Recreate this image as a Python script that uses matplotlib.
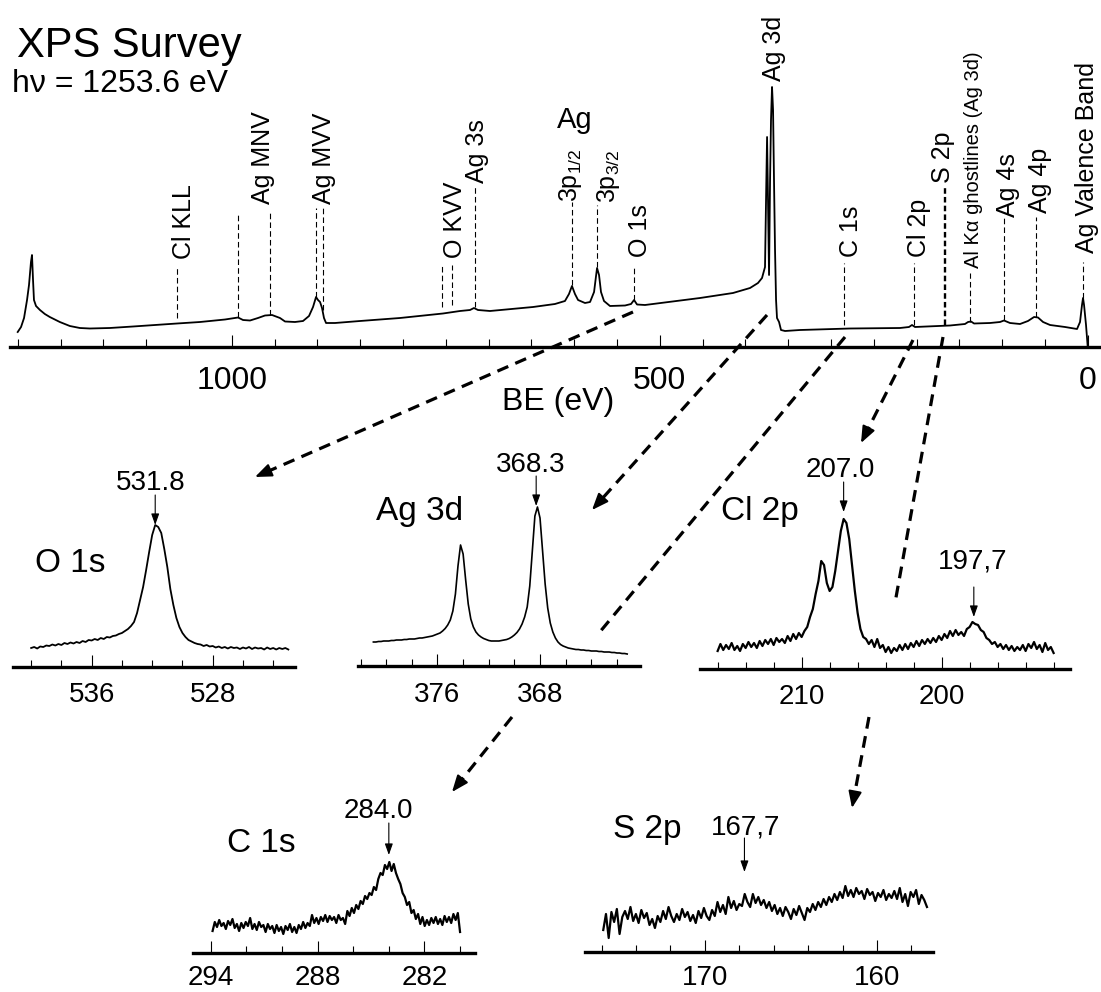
import numpy as np
import matplotlib
matplotlib.use("Agg")
import matplotlib.pyplot as plt
from matplotlib.ticker import FixedLocator, MultipleLocator

plt.rcParams['font.family'] = ['Liberation Sans', 'DejaVu Sans']
plt.rcParams['mathtext.fontset'] = 'custom'
plt.rcParams['mathtext.rm'] = 'Liberation Sans'
plt.rcParams['lines.scale_dashes'] = False

# ---------------- data ----------------
survey_be = [1250, 1246.1, 1242.6, 1239.1, 1236.8, 1234.5, 1233.3, 1232.1, 1231.0, 1228.6,
             1224.0, 1218.3, 1212.5, 1200.8, 1189.1, 1177.4, 1165.7, 1142.4, 1115.3, 1089.6,
             1063.9, 1037.0, 1007.8, 992.6, 986.8, 978.6, 969.3, 961.1, 952.9, 943.6,
             937.7, 926.1, 916.7, 909.7, 905.0, 901.5, 899.2, 896.8, 894.5, 892.2,
             889.8, 879.3, 850.1, 803.4, 753.2, 733.3, 721.6, 717.0, 712.3, 698.3,
             648.0, 622.4, 610.7, 606.0, 602.5, 599.0, 595.4, 587.3, 581.4, 576.7,
             574.4, 573.2, 570.9, 568.6, 565.1, 558.1, 540.5, 533.5, 530.0, 526.5,
             517.2, 452.9, 414.4, 394.5, 385.2, 380.5, 377.0, 375.8, 374.6, 373.5,
             372.3, 371.1, 370.0, 368.8, 367.6, 366.5, 365.3, 364.1, 363.0, 360.6,
             358.3, 353.6, 336.1, 277.7, 219.3, 208.8, 205.3, 201.8, 160.9, 143.4,
             139.8, 136.3, 132.8, 114.1, 102.5, 97.8, 90.8, 79.1, 69.8, 62.7,
             58.1, 52.2, 44.0, 26.5, 12.5, 9.0, 6.7, 5.5, 4.3, 2.0, 0.0]
survey_int = [15, 20, 29, 47, 62, 85, 92, 67, 47, 41,
              37, 33, 30, 25, 21, 19, 18.5, 19, 20.5, 22,
              23.5, 25, 27.5, 29.5, 27, 26.5, 29, 31.5, 32, 29,
              25.5, 25, 26, 31, 40, 50, 47, 45, 39, 29,
              24, 24, 26, 29, 33.5, 36, 37, 39, 37, 36,
              40, 43, 46, 53, 61, 53, 47, 44, 45, 55,
              71, 79, 72, 55, 46, 41, 41.5, 43, 47, 42.5,
              42, 49, 54, 59, 64, 69, 80, 147, 210, 147,
              72, 167, 227, 260, 237, 167, 97, 47, 29, 25,
              17, 16, 17, 18.5, 19, 20, 22, 20, 21.5, 23,
              25, 25.5, 23.5, 24, 25, 26.5, 24, 23, 26, 30,
              29.5, 25, 22, 20, 18, 25, 42, 49, 42, 22, 0]

survey_major = [1000, 500, 0]

peak_names = ['Cl KLL', 'Ag MNV', 'Ag MVV', 'O KVV', 'Ag 3s',
              r'$\mathregular{3p_{1/2}}$', r'$\mathregular{3p_{3/2}}$', 'O 1s', 'Ag 3d',
              'C 1s', 'Cl 2p', 'S 2p', 'Al K\u03b1 ghostlines (Ag 3d)', 'Ag 4s', 'Ag 4p',
              'Ag Valence Band']
peak_name_be = [1055.7, 964.0, 892.2, 739.7, 712.9, 604.8, 559.8, 523.0, 366.5,
                276.5, 197.1, 168.6, 134.0, 93.7, 55.7, 1.4]
peak_name_int = [88, 143, 143, 89, 164, 145, 144, 90, 266, 90, 90, 164, 79, 130, 134, 94]
peak_name_size = [18, 18, 18, 18, 18, 18, 18, 18, 18, 18, 18, 18, 14.5, 18, 18, 18]

marker_be = [1063.9, 992.6, 955.2, 901.5, 893.3, 754.3, 742.6, 715.8, 602.5, 573.2,
             530.0, 284.7, 203.2, 137.5, 97.8, 60.5, 5.5]
marker_top = [80, 135, 135, 139, 139, 82, 82, 162, 145, 142, 82, 84, 84, 74, 129, 130, 85]
marker_bottom = [29, 30, 32, 50, 37, 40, 42, 40, 62, 80, 47, 22, 22, 25, 27, 30, 49]
s2p_marker = (166.7, 159, 22)

# O 1s
o1s_counts = [19, 20, 18.5, 20.5, 20, 21.5, 21, 22.5, 21.5, 23,
              22, 24, 23, 24.5, 23.5, 25, 24, 26, 25, 27,
              26.5, 28, 27, 29, 28, 30, 29.5, 31, 31.5, 33,
              34, 36, 38, 41, 45, 54, 67, 80, 97, 115,
              132, 142, 140, 134, 118, 100, 78, 62, 49, 40,
              34, 30, 27, 25.5, 24, 23, 22.5, 21, 22, 20.5,
              21, 19.5, 20.5, 19, 20, 18.5, 20, 19, 19.5, 18,
              19.5, 18.5, 20, 18, 19.5, 18.5, 19, 17.5, 19.5, 18,
              19, 17.5, 19, 18, 19, 17.5]
o1s_be = np.linspace(540.0, 523.0, len(o1s_counts))

# Ag 3d
ag3d_counts = [24, 24, 24.5, 24.5, 25, 25, 25, 25.5, 25.5, 26,
               26, 26, 26.5, 26.5, 27, 27, 27, 27.5, 28, 28,
               28.5, 29, 29.5, 30, 31, 32, 33, 35, 37.5, 41,
               46, 55, 72, 100, 121, 112, 86, 62, 47, 39,
               34, 31, 29, 27.5, 26.5, 25.5, 25, 25, 25, 25,
               25.5, 26, 26.5, 27.5, 29, 31, 33.5, 37, 42, 49,
               59, 80, 115, 150, 159, 148, 115, 82, 58, 43,
               34, 28, 24, 21.5, 20, 19, 18, 17.5, 17, 16.5,
               16.5, 16, 16, 15.5, 15.5, 15, 15, 15, 14.5, 14.5,
               14, 14, 14, 13.5, 13.5, 13, 13, 12.5, 12.5, 12]
ag3d_be = np.linspace(381.0, 361.2, len(ag3d_counts))

# Cl 2p
cl2p_counts = [18, 25, 19, 24, 20, 26, 19, 23, 18, 25,
               21, 27, 22, 26, 21, 28, 23, 29, 25, 30,
               24, 31, 27, 30, 26, 33, 28, 35, 30, 36,
               32, 38, 42, 52, 60, 75, 88, 108, 104, 86,
               78, 82, 98, 118, 138, 150, 146, 130, 104, 78,
               56, 40, 32, 30, 25, 29, 22, 30, 21, 24,
               17, 22, 16, 21, 18, 24, 19, 25, 20, 26,
               22, 28, 23, 29, 25, 30, 26, 31, 27, 33,
               29, 35, 31, 38, 33, 39, 34, 37, 33, 40,
               42, 47, 45, 44, 39, 37, 31, 29, 25, 27,
               22, 25, 20, 24, 19, 23, 18, 22, 19, 24,
               18, 25, 21, 27, 20, 24, 17, 26, 19, 22, 16]
cl2p_be = np.linspace(216.0, 192.0, len(cl2p_counts))

# C 1s
c1s_counts = [22, 31, 26, 33, 27, 30, 24, 32, 28, 34,
              25, 29, 22, 30, 25, 31, 27, 35, 24, 29,
              23, 31, 26, 28, 21, 29, 24, 27, 20, 28,
              22, 26, 19, 27, 23, 29, 21, 26, 20, 28,
              24, 31, 25, 30, 27, 38, 30, 35, 29, 36,
              32, 38, 31, 37, 33, 36, 30, 38, 33, 35,
              29, 42, 37, 45, 40, 48, 44, 52, 49, 57,
              54, 60, 58, 66, 63, 74, 80, 78, 88, 84,
              91, 82, 89, 80, 74, 69, 60, 56, 48, 51,
              40, 43, 34, 39, 29, 36, 27, 33, 28, 35,
              30, 36, 29, 34, 28, 37, 31, 36, 30, 39,
              33, 40, 21]
c1s_be = np.linspace(293.9, 280.0, len(c1s_counts))

# S 2p
s2p_counts = [22, 38, 14, 40, 30, 43, 18, 35, 41, 33,
              45, 31, 38, 29, 42, 34, 39, 27, 33, 24,
              36, 30, 41, 33, 45, 36, 30, 38, 32, 43,
              35, 40, 31, 37, 29, 41, 34, 44, 36, 32,
              42, 36, 50, 40, 47, 38, 55, 44, 51, 42,
              48, 46, 58, 50, 45, 58, 49, 55, 47, 52,
              44, 50, 41, 47, 38, 44, 36, 45, 40, 33,
              43, 37, 46, 39, 32, 44, 40, 48, 42, 50,
              45, 53, 47, 55, 50, 58, 52, 60, 54, 66,
              56, 62, 55, 64, 58, 61, 53, 63, 57, 60,
              51, 59, 55, 62, 52, 58, 54, 61, 53, 64,
              50, 58, 46, 60, 55, 62, 48, 57, 52, 45]
s2p_be = np.linspace(175.9, 157.1, len(s2p_counts))

# ---------------- figure ----------------
W, H = 1101, 992
fig = plt.figure(figsize=(W / 100, H / 100), dpi=100)


def px_axes(left, top, right, bottom):
    return fig.add_axes([left / W, 1 - bottom / H, (right - left) / W, (bottom - top) / H])


def style_axis(ax, xlim, ylim, majors, minor_step, labelsize, pad,
               maj_len=8.5, min_len=5.0):
    ax.set_xlim(*xlim)
    ax.set_ylim(*ylim)
    for s in ['top', 'left', 'right']:
        ax.spines[s].set_visible(False)
    ax.spines['bottom'].set_linewidth(2.4)
    ax.patch.set_visible(False)
    ax.set_yticks([])
    ax.xaxis.set_major_locator(FixedLocator(majors))
    ax.xaxis.set_minor_locator(MultipleLocator(minor_step))
    ax.tick_params(axis='x', which='major', direction='in', length=maj_len,
                   width=0.8, labelsize=labelsize, pad=pad)
    ax.tick_params(axis='x', which='minor', direction='in', length=min_len, width=0.8)


# survey
sv = px_axes(10, 0, 1101, 347)
style_axis(sv, (1259, -15.5), (0, 347), survey_major, 50, 23, 13.5,
           maj_len=9, min_len=5.5)
sv.plot(survey_be, survey_int, color='k', lw=1.3, solid_joinstyle='round')
for be, t, b in zip(marker_be, marker_top, marker_bottom):
    sv.plot([be, be], [b, t], color='k', lw=0.8, dashes=(4, 2.3))
sv.plot([s2p_marker[0]] * 2, [s2p_marker[2], s2p_marker[1]], color='k', lw=1.7,
        dashes=(4, 2.3))
for name, be, iy, fs in zip(peak_names, peak_name_be, peak_name_int, peak_name_size):
    sv.text(be, iy, name, rotation=90, ha='center', va='bottom', fontsize=fs)
sv.text(598.7, 227, 'Ag', ha='center', va='center', fontsize=21)

# detail panels
o1 = px_axes(13, 467, 295, 667)
style_axis(o1, (541.2, 522.56), (0, 200), [536, 528], 2, 20, 11)
o1.plot(o1s_be, o1s_counts, color='k', lw=1.3)

ag = px_axes(358, 466, 640, 666)
style_axis(ag, (382.2, 360.2), (0, 200), [376, 368], 2, 20, 11.5)
ag.plot(ag3d_be, ag3d_counts, color='k', lw=1.2)

cl = px_axes(700, 469, 1070, 669)
style_axis(cl, (217.26, 190.83), (0, 200), [210, 200], 2, 20, 11)
cl.plot(cl2p_be, cl2p_counts, color='k', lw=1.6)

c1 = px_axes(193, 753, 475, 953)
style_axis(c1, (295.0, 279.16), (0, 200), [294, 288, 282], 2, 20, 8.5)
c1.plot(c1s_be, c1s_counts, color='k', lw=1.6)

s2 = px_axes(585, 752, 933, 952)
style_axis(s2, (176.96, 156.75), (0, 200), [170, 160], 2, 20, 9.5)
s2.plot(s2p_be, s2p_counts, color='k', lw=1.6)

small_arrow = dict(arrowstyle='-|>,head_length=0.45,head_width=0.16', color='k',
                   lw=0.8, shrinkA=0, shrinkB=0, mutation_scale=15)


def peak_mark(ax, label, lx, ly, be, y0, y1, fs=20):
    ax.text(lx, ly, label, ha='center', va='baseline', fontsize=fs)
    ax.annotate('', xy=(be, y1), xytext=(be, y0), arrowprops=small_arrow)


o1.text(537.4, 95, 'O 1s', ha='center', va='baseline', fontsize=24)
peak_mark(o1, '531.8', 532.08, 177, 531.8, 172, 142)

ag.text(377.4, 146, 'Ag 3d', ha='center', va='baseline', fontsize=24)
peak_mark(ag, '368.3', 368.7, 194, 368.3, 190, 160)

cl.text(212.98, 149, 'Cl 2p', ha='center', va='baseline', fontsize=24)
peak_mark(cl, '207.0', 207.26, 192, 207.0, 187, 157)
peak_mark(cl, '197,7', 197.76, 101, 197.7, 82, 52)

c1.text(291.18, 101, 'C 1s', ha='center', va='baseline', fontsize=24)
peak_mark(c1, '284.0', 284.58, 135, 284.0, 130, 98)

s2.text(173.37, 114, 'S 2p', ha='center', va='baseline', fontsize=24)
peak_mark(s2, '167,7', 167.62, 117, 167.7, 114, 80)

# overlay (pixel coordinates) for titles and connecting arrows
ov = fig.add_axes([0, 0, 1, 1], zorder=10)
ov.set_xlim(0, W)
ov.set_ylim(H, 0)
ov.axis('off')

ov.text(17, 57, 'XPS Survey', ha='left', va='baseline', fontsize=30)
ov.text(12, 92, 'h\u03bd = 1253.6 eV', ha='left', va='baseline', fontsize=23)
ov.text(558, 410, 'BE (eV)', ha='center', va='baseline', fontsize=23)

links = [((633, 312), (255, 477), True),
         ((767, 315), (592, 510), True),
         ((845, 337), (599, 633), False),
         ((512, 717), (452, 792), True),
         ((913, 340), (861, 443), True),
         ((943, 337), (895, 603), False),
         ((869, 717), (852, 808), True)]
head_px = 13
big_head = dict(arrowstyle='-|>,head_length=0.5,head_width=0.2', color='k', lw=1.5,
                shrinkA=0, shrinkB=0, mutation_scale=20)
for p0, p1, head in links:
    p0 = np.array(p0, float)
    p1 = np.array(p1, float)
    end = p1
    if head:
        u = (p1 - p0) / np.hypot(*(p1 - p0))
        end = p1 - head_px * u
        ov.annotate('', xy=p1, xytext=end, arrowprops=big_head)
    ov.plot([p0[0], end[0]], [p0[1], end[1]], color='k', lw=2.3, dashes=(8.5, 5.5))

fig.savefig('out.png', dpi=100)
